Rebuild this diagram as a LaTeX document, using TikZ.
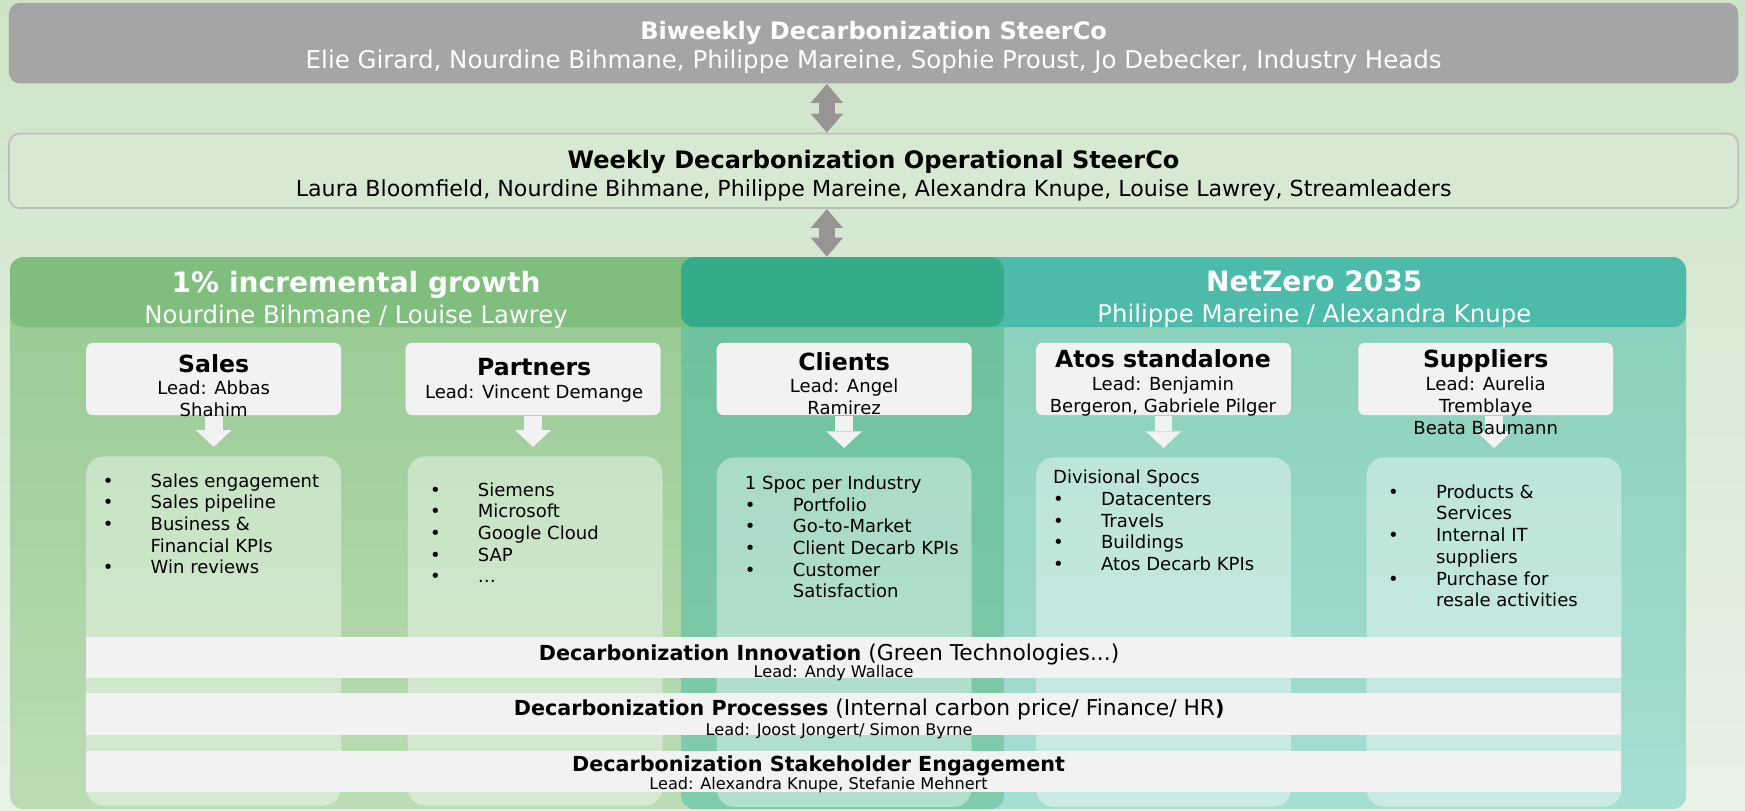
\documentclass[tikz,border=0pt]{standalone}
\usepackage{fontspec}
\setmainfont{DejaVu Sans}
\usepackage{xcolor}
\usetikzlibrary{arrows.meta, positioning}

\definecolor{bgtop}{RGB}{206,228,201}
\definecolor{bgmid}{RGB}{196,224,190}
\definecolor{bgbot}{RGB}{232,242,230}
\definecolor{steergray}{RGB}{165,165,165}
\definecolor{arrowgray}{RGB}{152,148,148}
\definecolor{weeklyfill}{RGB}{215,233,211}
\definecolor{weeklyline}{RGB}{190,190,190}
\definecolor{greenhead}{RGB}{128,190,125}
\definecolor{greentop}{RGB}{150,202,146}
\definecolor{greenbot}{RGB}{188,220,181}
\definecolor{tealhead}{RGB}{76,187,170}
\definecolor{tealtop}{RGB}{135,207,184}
\definecolor{tealbot}{RGB}{166,222,211}
\definecolor{mixhead}{RGB}{52,172,138}
\definecolor{mixtop}{RGB}{108,192,156}
\definecolor{mixbot}{RGB}{128,204,174}
\definecolor{boxwhite}{RGB}{242,242,242}

\newcommand{\bitem}[1]{\makebox[21.5pt][l]{\textbullet}#1}
\newcommand{\bcont}[1]{\hspace*{21.5pt}#1}

\begin{document}
\begin{tikzpicture}[x=0.5pt, y=-0.5pt,
    steerbox/.style={rounded corners=5pt, fill=steergray, text=white, align=center, inner sep=0pt, minimum width=777pt, minimum height=36.25pt, font=\fontsize{11}{13}\selectfont},
    weeklybox/.style={steerbox, fill=weeklyfill, draw=weeklyline, line width=0.8pt, text=black, minimum height=33.5pt, font=\fontsize{9.95}{12.5}\selectfont},
    panelhead/.style={rounded corners=6pt, inner sep=0pt, minimum height=31.5pt},
    paneltext/.style={text=white, align=center, inner sep=0pt, font=\fontsize{10.95}{14}\selectfont},
    colbox/.style={rounded corners=3pt, fill=boxwhite, inner sep=0pt, minimum width=114.5pt, minimum height=32.5pt},
    coltext/.style={anchor=north, align=center, inner sep=0pt, font=\fontsize{8.1}{10}\selectfont},
    listbox/.style={rounded corners=8pt, fill=white, fill opacity=0.4, inner sep=0pt, minimum width=114.5pt, minimum height=157pt},
    listtext/.style={anchor=north west, align=left, inner sep=0pt, font=\fontsize{8.1}{9.75}\selectfont},
    barbox/.style={fill=boxwhite, inner sep=0pt, minimum width=690pt, minimum height=18.5pt},
    bartitle/.style={inner sep=0pt, font=\fontsize{9.8}{11}\selectfont},
    barlead/.style={inner sep=0pt, font=\fontsize{7.25}{9}\selectfont},
    grayarrow/.style={draw=arrowgray, line width=7pt, {Triangle[length=8.5pt, width=14.5pt, line width=0pt]}-{Triangle[length=8.5pt, width=14.5pt, line width=0pt]}},
    whitearrow/.style={draw=boxwhite, line width=8pt, -{Triangle[length=7.5pt, width=16pt, line width=0pt]}, shorten >=4pt}
  ]
  \useasboundingbox (0,0) rectangle (1568,728);
  \shade[top color=bgtop, middle color=bgmid, bottom color=bgbot] (0,0) rectangle (1568,728);

  % SteerCos
  \node[steerbox] (steer) at (785,38.75) {\rule{0pt}{12.2pt}{\fontsize{10.8}{13}\selectfont\bfseries Biweekly Decarbonization SteerCo}\\Elie Girard, Nourdine Bihmane, Philippe Mareine, Sophie Proust, Jo Debecker, Industry Heads};
  \node[weeklybox] (weekly) at (785,153.5) {\rule{0pt}{12.7pt}{\fontsize{10.8}{12.5}\selectfont\bfseries Weekly Decarbonization Operational SteerCo}\\Laura Bloomfield, Nourdine Bihmane, Philippe Mareine, Alexandra Knupe, Louise Lawrey, Streamleaders};

  % Panels
  \shade[top color=greentop, bottom color=greenbot, rounded corners=6pt] (9,231) rectangle (902,727);
  \shade[top color=tealtop, bottom color=tealbot, rounded corners=6pt] (612,231) rectangle (1515,727);
  \shade[top color=mixtop, bottom color=mixbot, rounded corners=6pt] (612,231) rectangle (902,727);
  \node[panelhead, fill=greenhead, minimum width=446.5pt] (growthhead) at (455.5,262.5) {};
  \node[panelhead, fill=tealhead, minimum width=451.5pt] (netzerohead) at (1063.5,262.5) {};
  \node[panelhead, fill=mixhead, minimum width=145pt] (mixhead) at (757,262.5) {};
  \node[paneltext] (growthtxt) at (320,269.5) {{\fontsize{12.6}{14}\selectfont\bfseries 1\% incremental growth}\\Nourdine Bihmane / Louise Lawrey};
  \node[paneltext] (netzerotxt) at (1181,269) {{\fontsize{12.6}{14}\selectfont\bfseries NetZero 2035}\\Philippe Mareine / Alexandra Knupe};

  % Streams
  \node[colbox] (sales) at (192,340.5) {};
  \node[colbox] (partners) at (479,340.5) {};
  \node[colbox] (clients) at (758.5,340.5) {};
  \node[colbox] (atos) at (1045.5,340.5) {};
  \node[colbox] (suppliers) at (1335,340.5) {};

  \node[listbox] (salesl) at (192,567) {};
  \node[listbox] (partnersl) at (481,567) {};
  \node[listbox] (clientsl) at (758.5,568) {};
  \node[listbox] (atosl) at (1045.5,568) {};
  \node[listbox] (suppliersl) at (1342.5,568) {};

  \draw[whitearrow] (sales.south) -- (salesl.north);
  \draw[whitearrow] (partners.south) -- (partners.south |- partnersl.north);
  \draw[whitearrow] (clients.south) -- (clientsl.north);
  \draw[whitearrow] (atos.south) -- (atosl.north);
  \draw[whitearrow] (suppliersl.north |- suppliers.south) -- (suppliersl.north);

  \node[coltext] (salestxt) at (192,318) {{\fontsize{10.6}{10}\selectfont\bfseries Sales}\\Lead: Abbas\\Shahim};
  \node[coltext] (partnerstxt) at (480,322) {{\fontsize{10.6}{10}\selectfont\bfseries Partners}\\Lead: Vincent Demange};
  \node[coltext] (clientstxt) at (758.5,316) {{\fontsize{10.6}{10}\selectfont\bfseries Clients}\\Lead: Angel\\Ramirez};
  \node[coltext] (atostxt) at (1045,314) {{\fontsize{10.6}{10}\selectfont\bfseries Atos standalone}\\Lead: Benjamin\\Bergeron, Gabriele Pilger};
  \node[coltext] (supplierstxt) at (1335,314) {{\fontsize{10.6}{10}\selectfont\bfseries Suppliers}\\Lead: Aurelia\\Tremblaye\\Beata Baumann};

  \node[listtext] (salesitems) at (92,425) {\bitem{Sales engagement}\\\bitem{Sales pipeline}\\\bitem{Business \&}\\\bcont{Financial KPIs}\\\bitem{Win reviews}};
  \node[listtext] (partnersitems) at (386,433) {\bitem{Siemens}\\\bitem{Microsoft}\\\bitem{Google Cloud}\\\bitem{SAP}\\\bitem{…}};
  \node[listtext] (clientsitems) at (669,427) {1 Spoc per Industry\\\bitem{Portfolio}\\\bitem{Go-to-Market}\\\bitem{Client Decarb KPIs}\\\bitem{Customer}\\\bcont{Satisfaction}};
  \node[listtext] (atositems) at (946,422) {Divisional Spocs\\\bitem{Datacenters}\\\bitem{Travels}\\\bitem{Buildings}\\\bitem{Atos Decarb KPIs}};
  \node[listtext] (suppliersitems) at (1247,435) {\bitem{Products \&}\\\bcont{Services}\\\bitem{Internal IT}\\\bcont{suppliers}\\\bitem{Purchase for}\\\bcont{resale activities}};

  % Transversal streams
  \node[barbox] (innov) at (767,590.5) {};
  \node[barbox] (proc) at (767,641.5) {};
  \node[barbox] (stake) at (767,693) {};
  \node[bartitle] (innovtitle) at (745,588) {{\fontsize{9.3}{11}\selectfont\bfseries Decarbonization Innovation} (Green Technologies...)};
  \node[barlead] (innovlead) at (749,605) {Lead: Andy Wallace};
  \node[bartitle] (proctitle) at (781,637.5) {{\fontsize{9.3}{11}\selectfont\bfseries Decarbonization Processes} (Internal carbon price/ Finance/ HR{\fontsize{9.3}{11}\selectfont\bfseries )}};
  \node[barlead] (proclead) at (754,656.5) {Lead: Joost Jongert/ Simon Byrne};
  \node[bartitle, font=\fontsize{9.3}{11}\selectfont\bfseries] (staketitle) at (735.5,688.5) {Decarbonization Stakeholder Engagement};
  \node[barlead] (stakelead) at (735.5,705.5) {Lead: Alexandra Knupe, Stefanie Mehnert};

  % Links between the SteerCos
  \coordinate (axis) at (743,0);
  \draw[grayarrow] (steer.south -| axis) -- (weekly.north -| axis);
  \draw[grayarrow] (weekly.south -| axis) -- (mixhead.north -| axis);
\end{tikzpicture}
\end{document}
